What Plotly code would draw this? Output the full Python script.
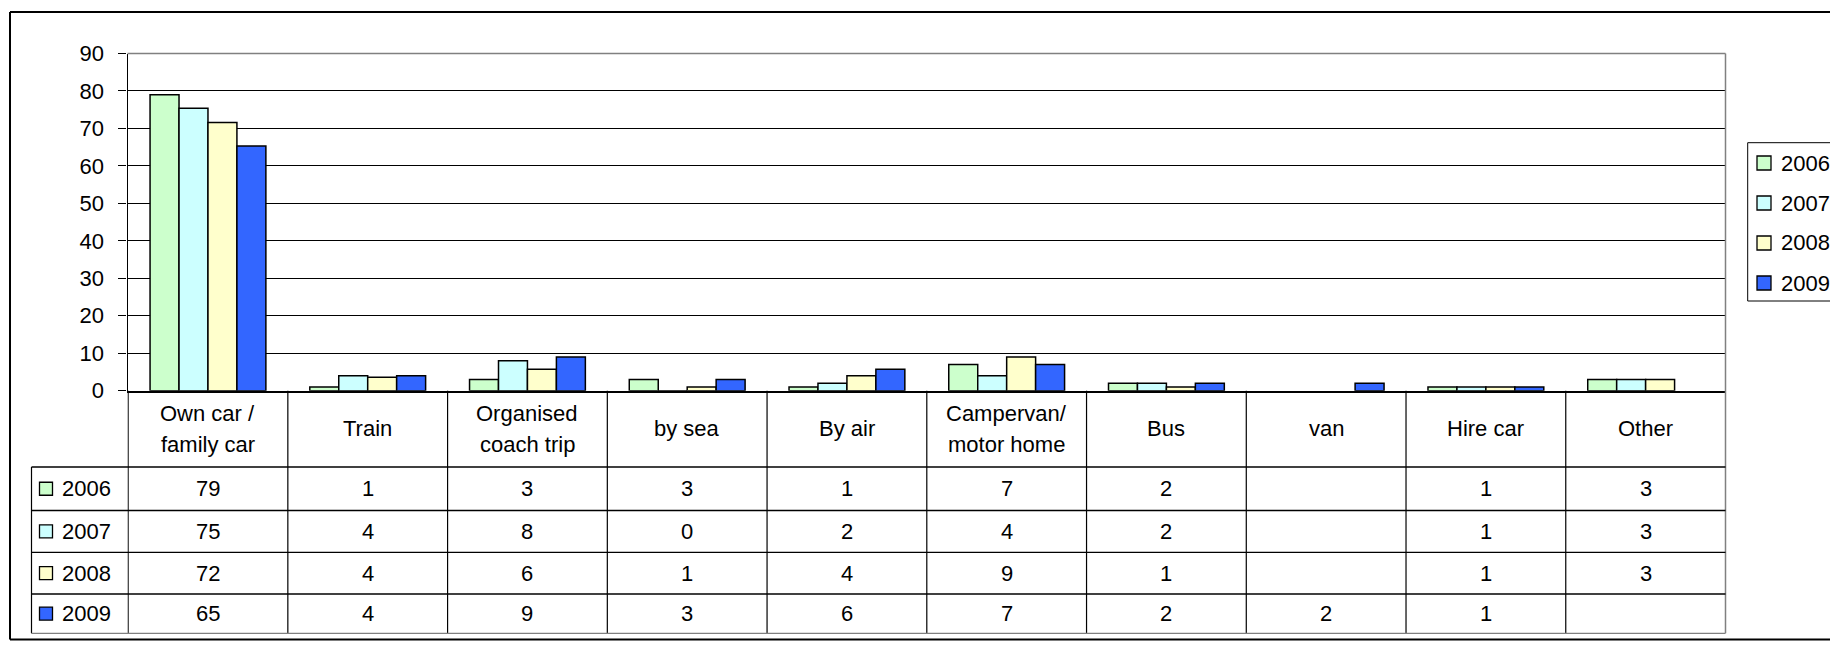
import plotly.graph_objects as go

W, H = 1830, 649

# ---------------- data ----------------
categories = ["Own car / family car", "Train", "Organised coach trip", "by sea", "By air",
              "Campervan/ motor home", "Bus", "van", "Hire car", "Other"]
header_labels = ["Own car /<br>family car", "Train", "Organised<br>coach trip", "by sea", "By air",
                 "Campervan/<br>motor home", "Bus", "van", "Hire car", "Other"]
years = ["2006", "2007", "2008", "2009"]
v2006 = [79, 1, 3, 3, 1, 7, 2, None, 1, 3]
v2007 = [75.4, 4, 8, 0, 2, 4, 2, None, 1, 3]
v2008 = [71.6, 3.6, 5.7, 1, 4, 9, 1, None, 1, 3]
v2009 = [65.3, 4, 9, 3, 5.7, 7, 2, 2, 1, None]
series = [v2006, v2007, v2008, v2009]
colors = ["#CCFFCC", "#CCFFFF", "#FFFFCC", "#3366FF"]
y_ticks = [0, 10, 20, 30, 40, 50, 60, 70, 80, 90]

FONT = "Liberation Sans, Arial, sans-serif"
FS = 22


def xp(px):
    return px / W


def yp(py):
    return 1 - py / H


# geometry (pixels)
PLOT_L, PLOT_R, PLOT_T, PLOT_B = 127.5, 1725.5, 53.5, 390.7
TABLE_L = 31.5
ROWS = [390.7, 467.0, 510.5, 552.3, 594.0, 633.3]
LEG_L, LEG_T, LEG_B = 1747.7, 142.7, 301.0
LEG_ROWS = [163.0, 203.0, 243.0, 283.0]

fig = go.Figure()
for yr, vals, col in zip(years, series, colors):
    fig.add_trace(go.Bar(
        name=yr, x=categories, y=vals,
        marker=dict(color=col, line=dict(color="#000000", width=1.5)),
        showlegend=False,
    ))

shapes = []
annotations = []


def line(x0, y0, x1, y1, color="#000000", width=1.2, xref="paper"):
    shapes.append(dict(type="line", xref=xref, yref="paper",
                       x0=x0, x1=x1, y0=y0, y1=y1,
                       line=dict(color=color, width=width), layer="above"))


# outer chart border (right side lies outside the window)
line(xp(10), yp(12), xp(W + 20), yp(12), width=2)
line(xp(10), yp(639.5), xp(W + 20), yp(639.5), width=2)
line(xp(10), yp(12), xp(10), yp(639.5), width=2)

# plot area border (top, right) in gray
line(xp(PLOT_L), yp(PLOT_T), xp(PLOT_R), yp(PLOT_T), color="#808080", width=1.3)
line(xp(PLOT_R), yp(PLOT_T), xp(PLOT_R), yp(ROWS[-1]), color="#808080", width=1.5)

# table: vertical lines at category boundaries
n = len(categories)
for i in range(n):
    line(i - 0.5, yp(ROWS[0]), i - 0.5, yp(ROWS[-1]), xref="x")
# table left border
line(xp(TABLE_L), yp(ROWS[1]), xp(TABLE_L), yp(ROWS[-1]))
# horizontal table lines
for k, ry in enumerate(ROWS[1:]):
    last = k == len(ROWS) - 2
    line(xp(TABLE_L), yp(ry), xp(PLOT_R), yp(ry),
         color="#808080" if last else "#000000", width=1.3)

# header labels
hdr_mid = (ROWS[0] + ROWS[1]) / 2
LINE_STEP = 31.5
for cat, lab in zip(categories, header_labels):
    parts = lab.split("<br>")
    k = len(parts)
    for j, part in enumerate(parts):
        cy = hdr_mid + (j - (k - 1) / 2) * LINE_STEP
        annotations.append(dict(xref="x", yref="paper", x=cat, y=yp(cy),
                                text=part, showarrow=False, xanchor="center", yanchor="middle",
                                font=dict(family=FONT, size=FS, color="#000000")))

# rows
for r, (yr, vals, col) in enumerate(zip(years, series, colors)):
    cy = (ROWS[r + 1] + ROWS[r + 2]) / 2
    shapes.append(dict(type="rect", xref="paper", yref="paper",
                       x0=xp(39.5), x1=xp(52.5), y0=yp(cy + 6.5), y1=yp(cy - 6.5),
                       fillcolor=col, line=dict(color="#000000", width=1.3), layer="above"))
    annotations.append(dict(xref="paper", yref="paper", x=xp(60), y=yp(cy),
                            text=yr, showarrow=False, xanchor="left", yanchor="middle",
                            font=dict(family=FONT, size=FS, color="#000000")))
    for cat, v in zip(categories, vals):
        if v is None:
            continue
        annotations.append(dict(xref="x", yref="paper", x=cat, y=yp(cy),
                                text=str(int(round(v))), showarrow=False,
                                xanchor="center", yanchor="middle",
                                font=dict(family=FONT, size=FS, color="#000000")))

# legend (box runs past the right edge of the window, as in the original)
shapes.append(dict(type="rect", xref="paper", yref="paper",
                   x0=xp(LEG_L), x1=xp(W + 60), y0=yp(LEG_B), y1=yp(LEG_T),
                   fillcolor="#FFFFFF", line=dict(color="#000000", width=1), layer="above"))
for yr, col, ly in zip(years, colors, LEG_ROWS):
    shapes.append(dict(type="rect", xref="paper", yref="paper",
                       x0=xp(1757), x1=xp(1771), y0=yp(ly + 7), y1=yp(ly - 7),
                       fillcolor=col, line=dict(color="#000000", width=1.3), layer="above"))
    annotations.append(dict(xref="paper", yref="paper", x=xp(1779), y=yp(ly),
                            text=yr, showarrow=False, xanchor="left", yanchor="middle",
                            font=dict(family=FONT, size=FS, color="#000000")))

fig.update_layout(
    width=W, height=H,
    margin=dict(l=0, r=0, t=0, b=0, autoexpand=False),
    paper_bgcolor="#FFFFFF", plot_bgcolor="#FFFFFF",
    barmode="group", bargap=0.275, bargroupgap=0,
    font=dict(family=FONT, size=FS, color="#000000"),
    showlegend=False,
    xaxis=dict(domain=[xp(PLOT_L), xp(PLOT_R)], showticklabels=False, ticks="",
               showline=True, linecolor="#000000", linewidth=1.5, showgrid=False,
               zeroline=False, fixedrange=True),
    yaxis=dict(domain=[yp(PLOT_B), yp(PLOT_T)], range=[0, 90], tickvals=y_ticks,
               ticks="outside", ticklen=8, tickwidth=1.2, tickcolor="#000000",
               showline=True, linecolor="#000000", linewidth=1.3,
               showgrid=True, gridcolor="#000000", gridwidth=1, zeroline=False,
               tickfont=dict(family=FONT, size=FS, color="#000000"),
               ticklabelstandoff=10, fixedrange=True),
    shapes=shapes,
    annotations=annotations,
)

fig.write_html("out.html", config={"displayModeBar": False},
               post_script="document.body.style.margin='0';document.body.style.overflow='hidden';")
